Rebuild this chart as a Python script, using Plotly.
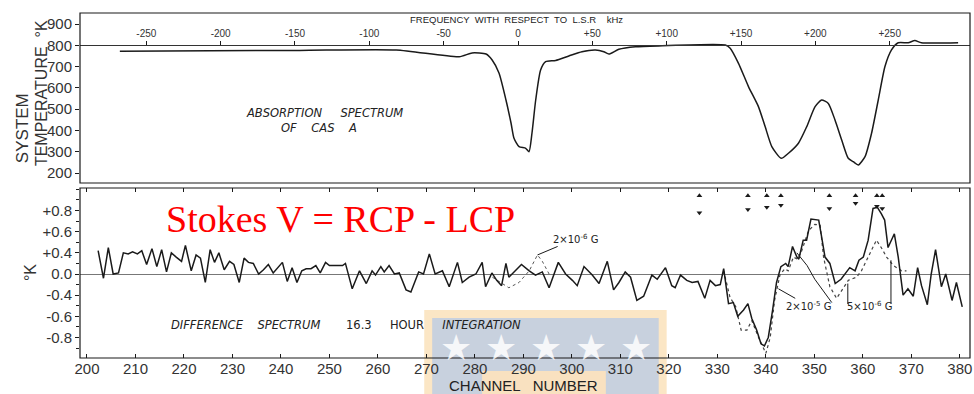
import plotly.graph_objects as go

# ---------------- data ----------------
# Top panel: absorption spectrum (frequency w.r.t. LSR in kHz, system temperature in K)
freq_khz = [-267.8, -147, -81.9, -39.6, -30.9, -21.5, -17.4, -12.8, -8.1, -4.7, -2.7, 0.7, 5.2, 7.4,
            9.4, 11.9, 15.2, 18.6, 25.3, 34.2, 43, 52.1, 57.7, 61.1, 67.8, 79, 94.6,
            139.4, 142.7, 148.3, 155, 161.7, 166.2, 170.7, 177, 181.9, 188.6, 194.2, 199.8, 204.2,
            208.7, 213.2, 217.7, 222.1, 225.5, 228.9, 233.4, 237.8, 242.3, 246.8, 251.2, 255.7,
            262.4, 266.9, 271.3, 296]
sys_temp = [772, 776, 778, 746, 764, 759, 731, 670, 543, 435, 363, 324, 316, 300,
            388, 543, 684, 723, 729, 750, 770, 778, 770, 759, 781, 793, 797,
            801, 786, 715, 606, 512, 418, 324, 269, 293, 340, 418, 512, 543,
            527, 449, 355, 269, 253, 238, 277, 387, 543, 700, 778, 812,
            812, 822, 812, 812]

# Bottom panel: difference spectrum (channel number, K)
channel = [202.3, 203.4, 204.4, 205.4, 206.5, 207.5, 208.5, 209.4, 210.4, 211.3,
           212.3, 213.4, 214.4, 215.4, 216.4, 217.4, 218.4, 219.5, 220.3, 221.5,
           222.5, 223.4, 224.4, 225.4, 226.3, 227.2, 228.3, 229.4, 230.3, 231.4,
           232.4, 233.3, 234.3, 235.4, 236.4, 237.4, 238.4, 239.3, 240.3, 241.3,
           242.3, 243.3, 244.3, 245.2, 246.2, 247.2, 248.1, 249.2,
           250.0, 252.7, 253.3, 254.7, 256.2, 257.6, 258.8, 259.5, 260.6, 261.3,
           262.3, 263.4, 264.4, 265.8, 266.8, 268.4, 269.4, 270.6, 271.8, 273.3,
           274.7, 276.4, 277.4, 278.8, 280.2, 281.5, 282.2, 283.5, 284.5, 285.5,
           286.4, 287.0, 288.1, 289.6, 291.2, 292.5, 293.9, 295.3, 297.2, 298.7,
           300.1, 301.1, 302.5, 304.2, 305.6, 307.3, 308.6, 309.7, 311.0, 312.1,
           313.4, 314.8,
           316.5, 317.6, 319.3, 320.6, 321.3, 322.4, 323.7, 324.8, 326.0, 327.4,
           328.5, 329.6, 330.6, 331.3, 332.3, 333.3, 334.2, 335.4, 336.3, 337.1,
           338.1, 339.0, 339.7, 340.5, 341.4, 342.2, 343.1, 344.1, 344.6, 345.5,
           346.4, 346.8, 347.7, 348.4, 349.3, 350.9, 351.5, 352.2, 353.2, 354.3,
           355.5, 356.4, 357.3, 358.4, 359.2, 360.1, 361.1, 362.1, 363.0, 363.8,
           364.5, 365.2, 366.5, 367.3, 368.3, 369.3, 370.4, 371.3, 372.1, 373.3,
           374.1, 375.0, 376.2, 377.1, 378.4, 379.3, 380.5]
diff_k = [0.22, -0.04, 0.25, 0.0, 0.01, 0.20, 0.19, 0.21, 0.19, 0.22,
          0.09, 0.24, 0.07, 0.23, 0.02, 0.20, 0.16, 0.12, 0.27, 0.03,
          0.18, 0.15, -0.08, 0.23, 0.11, 0.20, 0.04, 0.12, 0.09, -0.08,
          0.15, 0.11, 0.10, 0.0, 0.04, 0.09, 0.01, 0.06, 0.11, -0.07,
          0.06, -0.08, 0.03, 0.05, 0.05, 0.08, 0.01, 0.11,
          0.08, 0.08, 0.10, -0.14, 0.03, -0.09, 0.03, -0.01, 0.07, 0.02,
          0.08, 0.0, 0.01, -0.15, -0.17, 0.02, 0.0, 0.19, 0.0, 0.03,
          -0.12, 0.11, -0.08, -0.03, 0.0, 0.11, -0.12, 0.01, -0.06, -0.11,
          0.10, -0.03, 0.02, 0.09, 0.03, -0.01, 0.02, -0.13, 0.11, 0.0,
          -0.06, -0.11, 0.07, -0.01, -0.09, 0.12, -0.15, -0.08, 0.02, -0.03,
          -0.25, -0.21,
          -0.01, -0.05, 0.06, -0.11, -0.13, -0.01, -0.06, -0.08, -0.07, -0.23,
          -0.06, -0.11, -0.10, 0.05, -0.28, -0.27, -0.40, -0.34, -0.28, -0.42,
          -0.53, -0.66, -0.68, -0.60, -0.34, -0.08, 0.07, 0.10, 0.07, 0.26,
          0.16, 0.14, 0.32, 0.32, 0.52, 0.51, 0.35, 0.16, 0.10, -0.09,
          -0.05, 0.0, 0.06, 0.03, 0.13, 0.16, 0.32, 0.62, 0.63, 0.57,
          0.51, 0.25, 0.38, 0.16, -0.20, -0.14, -0.21, 0.06, -0.11, -0.29,
          0.0, 0.23, -0.12, 0.0, -0.25, -0.08, -0.31]

# model curves (dotted)
model_a_ch = [331.3, 332.6, 333.8, 334.9, 336.1, 337.1, 338.5, 340.0, 340.9, 341.8, 342.9, 343.9,
              344.6, 345.7, 346.5, 347.4, 348.8, 350.1, 351.2, 351.9, 353.2, 354.6, 355.6, 357.0,
              358.7, 359.7, 361.1, 362.8, 363.8, 364.9, 366.3, 368.0, 369.0]
model_a_k = [0.03, -0.22, -0.31, -0.53, -0.53, -0.44, -0.60, -0.75, -0.60, -0.25, -0.01, 0.05,
             0.03, 0.16, 0.14, 0.22, 0.41, 0.47, 0.46, 0.16, -0.12, -0.23, -0.16, -0.06,
             -0.03, 0.03, 0.16, 0.32, 0.25, 0.16, 0.08, 0.03, 0.03]
model_b_ch = [346.4, 348.5, 350.1, 352.0, 353.6]
model_b_k = [0.20, 0.08, -0.05, -0.17, -0.27]
model_c_ch = [283.6, 285.7, 287.0, 289.1, 291.2, 292.9, 293.9, 295.3]
model_c_k = [-0.03, -0.09, -0.13, -0.08, 0.03, 0.18, 0.12, 0.0]

# arrow markers above the difference spectrum
arrow_ch = [326.3, 336.3, 340.2, 343.1, 353.1, 358.5, 362.9, 364.0]
arrow_up_k = [0.74, 0.74, 0.74, 0.74, 0.74, 0.74, 0.74, 0.74]
arrow_dn_k = [0.58, 0.61, 0.63, 0.65, 0.62, 0.67, 0.64, 0.62]

# tick labels
temp_ticks = [200, 300, 400, 500, 600, 700, 800, 900]
freq_ticks = [-250, -200, -150, -100, -50, 0, 50, 100, 150, 200, 250]
freq_labels = ["-250", "-200", "-150", "-100", "-50", "0", "+50", "+100", "+150", "+200", "+250"]
chan_ticks = list(range(200, 390, 10))
k_tickvals = [0.6, 0.4, 0.2, 0.0, -0.2, -0.4, -0.6]
k_ticktext = ["+0.8", "+0.6", "+0.4", "0.0", "-0.4", "-0.6", "-0.8"]

# ---------------- figure ----------------
INK = "#1a1a1a"
TICKFONT = dict(family="Liberation Sans", size=15, color="#333")

fig = go.Figure()

fig.add_trace(go.Scatter(x=freq_khz, y=sys_temp, xaxis="x2", yaxis="y2", mode="lines",
                         line=dict(color=INK, width=1.5, shape="spline", smoothing=0.6),
                         showlegend=False))

fig.add_trace(go.Scatter(x=model_c_ch, y=model_c_k, mode="lines",
                         line=dict(color="#555", width=1, dash="dot"), showlegend=False))
fig.add_trace(go.Scatter(x=model_a_ch, y=model_a_k, mode="lines",
                         line=dict(color="#444", width=1.2, dash="dot"), showlegend=False))
fig.add_trace(go.Scatter(x=model_b_ch, y=model_b_k, mode="lines",
                         line=dict(color=INK, width=1), showlegend=False))
fig.add_trace(go.Scatter(x=channel, y=diff_k, mode="lines",
                         line=dict(color=INK, width=1.5), showlegend=False))
fig.add_trace(go.Scatter(x=arrow_ch, y=arrow_up_k, mode="markers",
                         marker=dict(symbol="triangle-up", size=5, color=INK), showlegend=False))
fig.add_trace(go.Scatter(x=arrow_ch, y=arrow_dn_k, mode="markers",
                         marker=dict(symbol="triangle-down", size=5, color=INK), showlegend=False))

ML, MR, MT, MB = 80, 2, 13, 36
W, H = 974, 394
PW, PH = W - ML - MR, H - MT - MB


def px(xp):
    return (xp - ML) / PW


def py(yp):
    return (H - MB - yp) / PH


fig.update_layout(
    width=W, height=H,
    margin=dict(l=ML, r=MR, t=MT, b=MB),
    paper_bgcolor="white", plot_bgcolor="rgba(0,0,0,0)",
    xaxis=dict(domain=[0, 1], range=[198.56, 382.1], anchor="y",
               tickvals=chan_ticks, ticks="inside", ticklen=4, tickcolor=INK,
               mirror="allticks", showline=False, showgrid=False, zeroline=False,
               tickfont=TICKFONT, ticklabeloverflow="allow"),
    yaxis=dict(domain=[0, py(188)], range=[-0.794, 0.813], anchor="x",
               tickvals=k_tickvals, ticktext=k_ticktext, ticks="outside", ticklen=4,
               tickcolor=INK, showgrid=False, zeroline=True, zerolinecolor="#777",
               zerolinewidth=1, tickfont=TICKFONT,
               minor=dict(dtick=0.1, ticks="outside", ticklen=3, tickcolor=INK)),
    xaxis2=dict(domain=[0, 1], range=[-294.6, 304.0], anchor="free", position=py(44.5),
                side="top", tickvals=freq_ticks, ticktext=freq_labels, ticks="outside",
                ticklen=4, tickcolor=INK, showline=True, linecolor="#333", linewidth=1,
                showgrid=False, zeroline=False,
                tickfont=dict(family="Liberation Sans", size=10, color="#333")),
    yaxis2=dict(domain=[py(183), 1], range=[153, 951.7], anchor="x2",
                tickvals=temp_ticks, ticks="outside", ticklen=4, tickcolor=INK,
                showgrid=False, zeroline=False, tickfont=TICKFONT),
)

# panel frames
for xr, yr in (("x domain", "y domain"), ("x2 domain", "y2 domain")):
    fig.add_shape(type="rect", xref=xr, yref=yr, x0=0, x1=1, y0=0, y1=1,
                  line=dict(color=INK, width=1.2), layer="above")

# watermark (logo behind the x-axis title)
fig.add_shape(type="rect", xref="paper", yref="paper", x0=px(425), x1=px(668), y0=py(394), y1=py(310),
              fillcolor="rgba(250,222,178,0.75)", line_width=0, layer="below")
fig.add_shape(type="rect", xref="paper", yref="paper", x0=px(433), x1=px(660), y0=py(394), y1=py(318),
              fillcolor="rgba(190,204,226,0.85)", line_width=0, layer="below")
fig.add_shape(type="rect", xref="paper", yref="paper", x0=px(483), x1=px(607), y0=py(394), y1=py(371),
              fillcolor="rgba(252,226,190,0.95)", line_width=0, layer="below")
for sx in (457, 502, 547, 592, 637):
    fig.add_annotation(x=px(sx), y=py(346), xref="paper", yref="paper", text="★",
                       xanchor="center", yanchor="middle", showarrow=False,
                       font=dict(size=36, color="rgba(255,255,255,0.85)"))

ann_font = dict(family="DejaVu Sans", size=11.5, color="#222")
annotations = [
    dict(x=px(517), y=py(20), text="FREQUENCY  WITH  RESPECT  TO  L.S.R    kHz",
         font=dict(family="Liberation Sans", size=9.5, color="#222")),
    dict(x=px(325), y=py(113), text="<i>ABSORPTION     SPECTRUM</i>", font=ann_font),
    dict(x=px(320), y=py(128), text="<i>OF    CAS    A</i>", font=ann_font),
    dict(x=px(347), y=py(325),
         text="<i>DIFFERENCE    SPECTRUM</i>       16.3     HOUR     <i>INTEGRATION</i>",
         font=ann_font),
    dict(x=px(341), y=py(219), text="Stokes V = RCP - LCP",
         font=dict(family="Liberation Serif", size=38, color="#ff0000")),
    dict(x=px(524), y=py(385), text="CHANNEL   NUMBER",
         font=dict(family="Liberation Sans", size=15, color="#222")),
    dict(x=px(22), y=py(128), text="SYSTEM", textangle=-90,
         font=dict(family="Liberation Sans", size=17, color="#333")),
    dict(x=px(41), y=py(93), text="TEMPERATURE  °K", textangle=-90,
         font=dict(family="Liberation Sans", size=16, color="#333")),
    dict(x=px(30), y=py(273), text="°K", textangle=-90,
         font=dict(family="Liberation Sans", size=16, color="#333")),
]
for a in annotations:
    fig.add_annotation(xref="paper", yref="paper", showarrow=False,
                       xanchor="center", yanchor="middle", **a)

# curve labels with leader lines
lab_font = dict(family="DejaVu Sans", size=10, color="#222")
fig.add_annotation(x=292.9, y=0.18, text="2×10<sup>-6</sup> G", showarrow=True, arrowhead=0,
                   arrowwidth=1, arrowcolor=INK, ax=38, ay=-16, font=lab_font)
fig.add_annotation(x=342.6, y=-0.14, text="2×10<sup>-5</sup> G", showarrow=True, arrowhead=0,
                   arrowwidth=1, arrowcolor=INK, ax=30, ay=17, font=lab_font)
fig.add_annotation(x=361.3, y=-0.30, text="5×10<sup>-6</sup> G", showarrow=False, font=lab_font)
fig.add_annotation(x=356.9, y=-0.09, text="", showarrow=True, arrowhead=0, arrowwidth=1,
                   arrowcolor=INK, ax=0, ay=22)
fig.add_annotation(x=365.8, y=0.13, text="", showarrow=True, arrowhead=0, arrowwidth=1,
                   arrowcolor=INK, ax=0, ay=45)

fig.write_html("out.html")
